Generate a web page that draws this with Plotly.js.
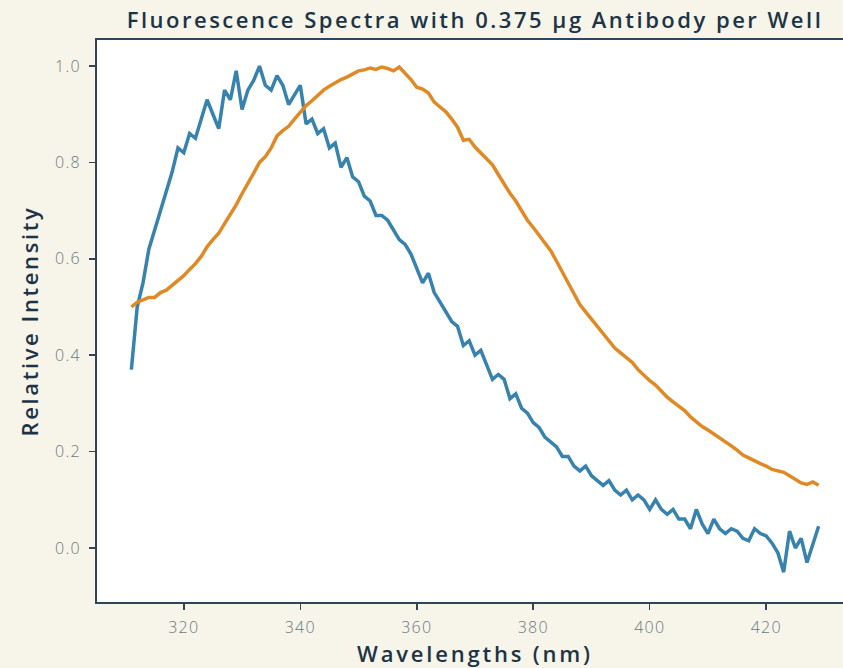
<!DOCTYPE html>
<html>
<head>
<meta charset="utf-8">
<script src="https://cdn.plot.ly/plotly-3.0.1.min.js"></script>
<style>
html,body{margin:0;padding:0;background:#f7f5e9;overflow:hidden;}
#chart{width:860px;height:668px;}
#chart .gtitle{letter-spacing:2.5px;}
#chart .g-xtitle text{letter-spacing:2.8px;}
#chart .g-ytitle text{letter-spacing:2.6px;}
#chart .xtick text, #chart .ytick text{letter-spacing:1.2px;}
</style>
</head>
<body>
<div id="chart"></div>
<script>
const wavelengths = [];
for (let w = 311; w <= 429; w++) wavelengths.push(w);

const blueSeries = [0.37,0.50,0.55,0.62,0.66,0.70,0.74,0.78,0.83,0.82,
0.86,0.85,0.89,0.93,0.90,0.87,0.95,0.93,0.99,0.91,
0.95,0.97,1.00,0.96,0.95,0.98,0.96,0.92,0.94,0.96,
0.88,0.89,0.86,0.87,0.83,0.84,0.79,0.81,0.77,0.76,
0.73,0.72,0.69,0.69,0.68,0.66,0.64,0.63,0.61,0.58,
0.55,0.57,0.53,0.51,0.49,0.47,0.46,0.42,0.43,0.40,
0.41,0.38,0.35,0.36,0.35,0.31,0.32,0.29,0.28,0.26,
0.25,0.23,0.22,0.21,0.19,0.19,0.17,0.16,0.17,0.15,
0.14,0.13,0.14,0.12,0.11,0.12,0.10,0.11,0.10,0.08,
0.10,0.08,0.07,0.08,0.06,0.06,0.04,0.08,0.05,0.03,
0.06,0.04,0.03,0.04,0.035,0.02,0.015,0.04,0.03,0.025,
0.01,-0.01,-0.05,0.035,0.00,0.02,-0.03,0.01,0.045];

const orangeSeries = [0.50,0.51,0.515,0.52,0.52,0.53,0.535,0.545,0.555,0.565,
0.578,0.59,0.605,0.625,0.64,0.653,0.673,0.692,0.712,0.735,
0.755,0.778,0.80,0.812,0.83,0.855,0.866,0.875,0.89,0.905,
0.918,0.928,0.94,0.95,0.958,0.966,0.972,0.977,0.984,0.99,
0.992,0.996,0.993,0.998,0.995,0.99,0.998,0.985,0.972,0.956,
0.952,0.944,0.925,0.915,0.905,0.89,0.873,0.846,0.848,0.832,
0.82,0.808,0.795,0.775,0.755,0.736,0.72,0.70,0.68,0.665,
0.648,0.632,0.617,0.595,0.572,0.55,0.525,0.505,0.49,0.475,
0.46,0.447,0.43,0.415,0.405,0.396,0.385,0.37,0.358,0.347,
0.338,0.325,0.313,0.303,0.295,0.285,0.272,0.262,0.252,0.245,
0.237,0.23,0.222,0.212,0.203,0.193,0.187,0.18,0.175,0.17,
0.163,0.16,0.157,0.15,0.142,0.135,0.132,0.137,0.13];

const xTicks = [320,340,360,380,400,420];
const yTicks = [0.0,0.2,0.4,0.6,0.8,1.0];

const navy = '#1d3447';
const axisCol = '#2f4558';
const fam = '"Open Sans", sans-serif';
const tickFont = {family:fam, size:16, color:'#6a7882', weight:300};

const traces = [
  {x: wavelengths, y: blueSeries, mode:'lines', line:{color:'#3783ae', width:3.5}, showlegend:false},
  {x: wavelengths, y: orangeSeries, mode:'lines', line:{color:'#e08a25', width:3.5}, showlegend:false}
];

const layout = {
  width: 860, height: 668,
  paper_bgcolor:'#f7f5e9', plot_bgcolor:'#ffffff',
  margin:{l:97, r:7, t:40, b:66},
  title:{text:'Fluorescence Spectra with 0.375 µg Antibody per Well',
    font:{family:fam, size:22, color:navy, weight:600},
    x:0.5, xref:'paper', xanchor:'center', y:1-20/668, yref:'container', yanchor:'middle'},
  xaxis:{range:[305.1,434.9], tickvals:xTicks, ticktext:xTicks.map(String),
    showgrid:false, zeroline:false, showline:true, linecolor:axisCol, linewidth:2, mirror:true,
    ticks:'outside', ticklen:6, tickwidth:1.5, tickcolor:axisCol, tickfont:tickFont, ticklabelstandoff:4,
    title:{text:'Wavelengths (nm)', font:{family:fam, size:22, color:navy, weight:600}, standoff:14}},
  yaxis:{range:[-0.112,1.054], tickvals:yTicks, ticktext:yTicks.map(v=>v.toFixed(1)),
    showgrid:false, zeroline:false, showline:true, linecolor:axisCol, linewidth:2, mirror:true,
    ticks:'outside', ticklen:6, tickwidth:1.5, tickcolor:axisCol, tickfont:tickFont, ticklabelstandoff:5,
    title:{text:'Relative Intensity', font:{family:fam, size:22, color:navy, weight:600}, standoff:14}}
};

Plotly.newPlot('chart', traces, layout, {displayModeBar:false, staticPlot:true});
</script>
</body>
</html>
